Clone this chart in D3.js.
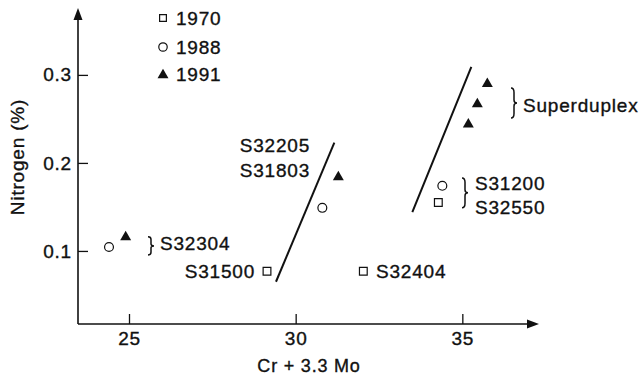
<!DOCTYPE html>
<html>
<head>
<meta charset="utf-8">
<script src="https://cdn.jsdelivr.net/npm/d3@7"></script>
<style>
  html, body { margin: 0; padding: 0; background: #fff; }
  svg { display: block; }
  text { font-family: "Liberation Sans", Arial, Helvetica, sans-serif; font-size: 19px; fill: #111; letter-spacing: 0.8px; stroke: #111; stroke-width: 0.35px; }
</style>
</head>
<body>
<svg id="chart" width="641" height="376"></svg>
<script>
// ---- data ----
const legendYears = ["1970", "1988", "1991"];
const xTicks = [25, 30, 35];
const yTicks = [0.1, 0.2, 0.3];

const x1970 = [29.14, 32.03, 34.28];
const y1970 = [0.077, 0.077, 0.155];
const x1988 = [24.4, 30.8, 34.4];
const y1988 = [0.1045, 0.149, 0.174];
const x1991 = [24.9, 31.28, 35.18, 35.45, 35.75];
const y1991 = [0.117, 0.185, 0.245, 0.268, 0.291];

// boundary lines (start/end in data units)
const lineX = [[29.41, 31.16], [33.5, 35.27]];
const lineY = [[0.065, 0.223], [0.144, 0.309]];

// grade labels
const labelText = ["S32304", "S31500", "S32404", "S32205", "S31803", "Superduplex", "S31200", "S32550"];
const labelX    = [25.93, 28.78, 32.41, 30.43, 30.43, 36.82, 35.38, 35.38];
const labelY    = [0.109, 0.077, 0.077, 0.2205, 0.192, 0.266, 0.177, 0.150];
const labelAnchor = ["start", "end", "start", "end", "end", "start", "start", "start"];

// braces: x position, y top, y bottom
const braceX  = [25.57, 36.46, 34.99];
const braceY1 = [0.116, 0.285, 0.183];
const braceY2 = [0.0955, 0.251, 0.149];

// ---- drawing ----
const svg = d3.select("#chart");
const x = d3.scaleLinear().domain([23.47, 37.3]).range([78, 539]);
const y = d3.scaleLinear().domain([0.017, 0.376]).range([324, 8]);

const ink = "#111";

// axes
const xAxis = d3.axisBottom(x).tickValues(xTicks).tickSize(-10).tickPadding(8).tickFormat(d3.format("d"));
const yAxis = d3.axisLeft(y).tickValues(yTicks).tickSize(-10).tickPadding(6).tickFormat(d3.format(".1f"));

const gx = svg.append("g").attr("transform", `translate(0,${y.range()[0]})`).call(xAxis);
const gy = svg.append("g").attr("transform", `translate(${x.range()[0]},0)`).call(yAxis);
[gx, gy].forEach(g => {
  g.select(".domain").remove();
  g.selectAll(".tick line").attr("stroke", ink).attr("stroke-width", 1.3);
  g.selectAll(".tick text").attr("fill", ink).style("font-size", "19px")
    .style("font-family", "'Liberation Sans', Arial, sans-serif");
});

// axis lines with arrows
const x0 = x.range()[0], y0 = y.range()[0];
const xEnd = x.range()[1], yEnd = y.range()[1];
svg.append("line").attr("x1", x0).attr("y1", y0).attr("x2", xEnd - 6).attr("y2", y0)
  .attr("stroke", ink).attr("stroke-width", 1.6);
svg.append("line").attr("x1", x0).attr("y1", y0).attr("x2", x0).attr("y2", yEnd + 6)
  .attr("stroke", ink).attr("stroke-width", 1.6);
svg.append("path").attr("d", `M${xEnd},${y0} L${xEnd - 12},${y0 - 4.5} L${xEnd - 12},${y0 + 4.5} Z`).attr("fill", ink);
svg.append("path").attr("d", `M${x0},${yEnd} L${x0 - 4.5},${yEnd + 12} L${x0 + 4.5},${yEnd + 12} Z`).attr("fill", ink);

// axis titles
svg.append("text").attr("x", 309).attr("y", 372).style("font-size", "18px")
  .attr("text-anchor", "middle").text("Cr + 3.3 Mo");
svg.append("text").attr("transform", `translate(24,157) rotate(-90)`)
  .attr("text-anchor", "middle").text("Nitrogen (%)");

// boundary lines
lineX.forEach((lx, i) => {
  svg.append("line")
    .attr("x1", x(lx[0])).attr("y1", y(lineY[i][0]))
    .attr("x2", x(lx[1])).attr("y2", y(lineY[i][1]))
    .attr("stroke", ink).attr("stroke-width", 2);
});

// markers
const sq = d3.symbol().type(d3.symbolSquare).size(60);
const ci = d3.symbol().type(d3.symbolCircle).size(62);
const tr = d3.symbol().type(d3.symbolTriangle).size(52);

x1970.forEach((v, i) => {
  svg.append("path").attr("d", sq()).attr("transform", `translate(${x(v)},${y(y1970[i])})`)
    .attr("fill", "none").attr("stroke", ink).attr("stroke-width", 1.2);
});
x1988.forEach((v, i) => {
  svg.append("path").attr("d", ci()).attr("transform", `translate(${x(v)},${y(y1988[i])})`)
    .attr("fill", "none").attr("stroke", ink).attr("stroke-width", 1.2);
});
x1991.forEach((v, i) => {
  svg.append("path").attr("d", tr()).attr("transform", `translate(${x(v)},${y(y1991[i]) + 1})`)
    .attr("fill", ink);
});

// legend
const legendMarkers = [
  { gen: d3.symbol().type(d3.symbolSquare).size(46), fill: "none" },
  { gen: d3.symbol().type(d3.symbolCircle).size(56), fill: "none" },
  { gen: d3.symbol().type(d3.symbolTriangle).size(52), fill: ink }
];
const legendRowY = [18, 47, 74];
legendYears.forEach((yr, i) => {
  const g = svg.append("g").attr("transform", `translate(163,${legendRowY[i]})`);
  g.append("path").attr("d", legendMarkers[i].gen())
    .attr("transform", i === 2 ? "translate(0,1)" : null)
    .attr("fill", legendMarkers[i].fill).attr("stroke", i === 2 ? "none" : ink).attr("stroke-width", 1.2);
  g.append("text").attr("x", 13).attr("dy", "0.36em").text(yr);
});

// labels
labelText.forEach((t, i) => {
  svg.append("text").attr("x", x(labelX[i])).attr("y", y(labelY[i]))
    .attr("dy", "0.36em").attr("text-anchor", labelAnchor[i]).text(t);
});

// braces (pointing right)
braceX.forEach((bx, i) => {
  const px = x(bx), t = y(braceY1[i]), b = y(braceY2[i]);
  const m = (t + b) / 2, h = b - t, w = 3;
  const d = `M${px},${t} Q${px + w},${t} ${px + w},${t + h * 0.15}` +
            ` L${px + w},${m - h * 0.1} Q${px + w},${m} ${px + 2 * w},${m}` +
            ` Q${px + w},${m} ${px + w},${m + h * 0.1}` +
            ` L${px + w},${b - h * 0.15} Q${px + w},${b} ${px},${b}`;
  svg.append("path").attr("d", d).attr("fill", "none").attr("stroke", ink).attr("stroke-width", 1.5);
});
</script>
</body>
</html>
